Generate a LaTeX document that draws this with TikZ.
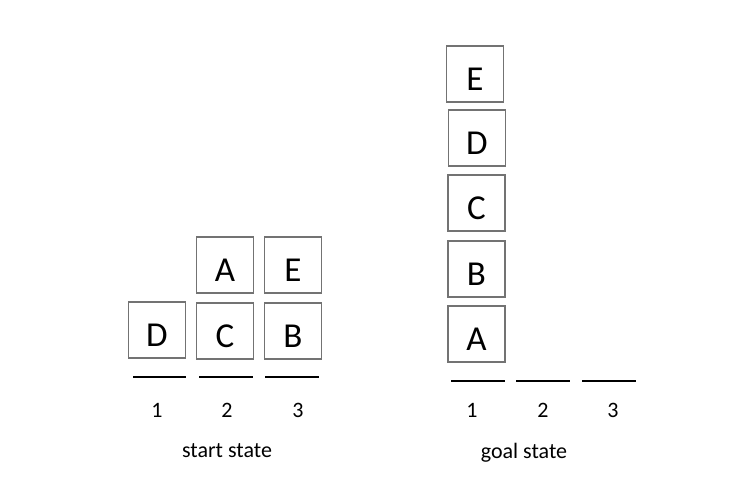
\documentclass[tikz,border=0pt]{standalone}
\usepackage{fontspec}
\setmainfont{Carlito}
\begin{document}
\begin{tikzpicture}[x=1pt,y=-1pt,
  block/.style={draw=black!55,line width=1.3pt,minimum width=57pt,minimum height=56pt,
    inner sep=0pt,font=\fontsize{35}{35}\selectfont,text height=32pt,text depth=0pt},
  ground/.style={line width=2.6pt},
  tag/.style={font=\fontsize{22}{22}\selectfont,inner sep=0pt}]
\useasboundingbox (0,0) rectangle (736,498);

% start state
\node[block] (sD) at (157,330) {D};
\node[block] (sC) at (225,331) {C};
\node[block] (sB) at (293,331) {B};
\node[block] (sA) at (225,265) {A};
\node[block] (sE) at (293,265) {E};

\draw[ground] (133,377) -- (186,377);
\draw[ground] (199,377) -- (253,377);
\draw[ground] (265,377) -- (319,377);

\node[tag] (s1) at (157,410) {1};
\node[tag] (s2) at (227,410) {2};
\node[tag] (s3) at (298,410) {3};
\node[tag,anchor=base] (start) at (227,457) {start state};

% goal state
\node[block] (gE) at (475,74) {E};
\node[block] (gD) at (477,138) {D};
\node[block] (gC) at (476.5,203) {C};
\node[block] (gB) at (476.5,269) {B};
\node[block] (gA) at (476.5,334) {A};

\draw[ground] (451,381) -- (505,381);
\draw[ground] (516,381) -- (570,381);
\draw[ground] (582,381) -- (636,381);

\node[tag] (g1) at (472,410) {1};
\node[tag] (g2) at (543,410) {2};
\node[tag] (g3) at (613,410) {3};
\node[tag,anchor=base] (goal) at (524,458) {goal state};

\end{tikzpicture}
\end{document}
